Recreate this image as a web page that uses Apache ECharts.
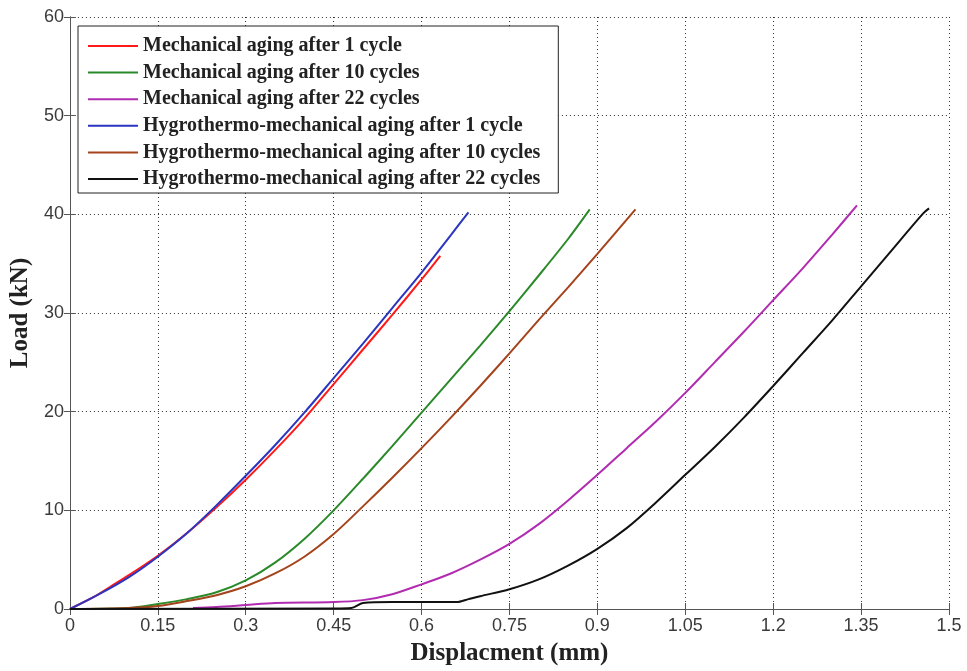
<!DOCTYPE html>
<html>
<head>
<meta charset="utf-8">
<script src="https://cdn.jsdelivr.net/npm/echarts@6/dist/echarts.min.js"></script>
<style>
    html, body { margin: 0; padding: 0; background: #fff; }
    #chart { width: 967px; height: 671px; }
</style>
</head>
<body>
<div id="chart"></div>
<script>
// 图例名称
const seriesNames = [
    'Mechanical aging after 1 cycle',
    'Mechanical aging after 10 cycles',
    'Mechanical aging after 22 cycles',
    'Hygrothermo-mechanical aging after 1 cycle',
    'Hygrothermo-mechanical aging after 10 cycles',
    'Hygrothermo-mechanical aging after 22 cycles'
];
const seriesColors = ['#ff1a1a', '#2a8a2a', '#b12cb1', '#2a35c0', '#a5431c', '#111111'];

// [位移 mm, 载荷 kN]
const mech1 = [[0, 0], [0.04, 1.2], [0.07, 2.3], [0.1, 3.4], [0.15, 5.4], [0.2, 7.7], [0.25, 10.3],
    [0.3, 13.1], [0.35, 16.1], [0.4, 19.3], [0.45, 22.8], [0.5, 26.3], [0.55, 29.8], [0.6, 33.4], [0.632, 35.8]];
const mech10 = [[0, 0], [0.1, 0.1], [0.15, 0.5], [0.2, 1.0], [0.25, 1.7], [0.3, 2.9], [0.35, 4.7],
    [0.4, 7.1], [0.45, 10.0], [0.5, 13.2], [0.55, 16.5], [0.6, 19.9], [0.65, 23.3], [0.7, 26.7],
    [0.75, 30.2], [0.8, 33.8], [0.85, 37.5], [0.887, 40.5]];
const mech22 = [[0.21, 0.1], [0.25, 0.2], [0.3, 0.4], [0.35, 0.6], [0.45, 0.7], [0.5, 0.9], [0.55, 1.5],
    [0.6, 2.5], [0.65, 3.6], [0.7, 5.0], [0.75, 6.6], [0.8, 8.6], [0.85, 11.0], [0.9, 13.6], [0.95, 16.3],
    [1.0, 19.0], [1.05, 21.9], [1.1, 25.0], [1.15, 28.1], [1.2, 31.3], [1.25, 34.5], [1.3, 37.9], [1.343, 40.9]];
const hygro1 = [[0, 0], [0.05, 1.5], [0.1, 3.2], [0.15, 5.3], [0.2, 7.7], [0.25, 10.5], [0.3, 13.5],
    [0.35, 16.6], [0.4, 19.9], [0.45, 23.4], [0.5, 26.9], [0.55, 30.5], [0.6, 34.1], [0.65, 37.9], [0.68, 40.2]];
const hygro10 = [[0, 0], [0.1, 0.1], [0.15, 0.3], [0.2, 0.8], [0.25, 1.4], [0.3, 2.3], [0.35, 3.6],
    [0.4, 5.3], [0.45, 7.6], [0.5, 10.4], [0.55, 13.3], [0.6, 16.3], [0.65, 19.4], [0.7, 22.6],
    [0.75, 25.9], [0.8, 29.3], [0.85, 32.6], [0.9, 36.0], [0.965, 40.5]];
const hygro22 = [[0, 0], [0.45, 0.05], [0.48, 0.1], [0.5, 0.6], [0.55, 0.7], [0.6, 0.7], [0.66, 0.7],
    [0.68, 1.0], [0.7, 1.3], [0.75, 2.0], [0.8, 3.0], [0.85, 4.4], [0.9, 6.1], [0.95, 8.2], [1.0, 10.8],
    [1.05, 13.6], [1.1, 16.4], [1.15, 19.4], [1.2, 22.6], [1.25, 25.9], [1.3, 29.2], [1.35, 32.7],
    [1.4, 36.2], [1.456, 40.1], [1.466, 40.6]];

const seriesData = [mech1, mech10, mech22, hygro1, hygro10, hygro22];

const chart = echarts.init(document.getElementById('chart'));

const axisLine = { show: true, lineStyle: { color: '#555', width: 1 } };
const tickInside = { show: true, inside: true, length: 6, lineStyle: { color: '#555' } };
const labelStyle = { fontFamily: 'Liberation Sans', fontSize: 18, color: '#3a3a3a' };
const gridDots = { show: true, lineStyle: { type: [1, 3], color: '#333', width: 1 } };
const nameStyle = { fontFamily: 'Liberation Serif', fontWeight: 'bold', fontSize: 25, color: '#222' };

const option = {
    animation: false,
    backgroundColor: '#fff',
    grid: { left: 69, right: 18, top: 17, bottom: 58 },
    legend: {
        data: seriesNames,
        orient: 'vertical',
        left: 78,
        top: 26,
        icon: 'rect',
        itemWidth: 50,
        itemHeight: 2,
        itemGap: 6.6,
        padding: [10, 18, 4, 10],
        backgroundColor: '#fff',
        borderColor: '#222',
        borderWidth: 1,
        borderRadius: 0,
        textStyle: { fontFamily: 'Liberation Serif', fontWeight: 'bold', fontSize: 20, color: '#222', lineHeight: 20 }
    },
    xAxis: [
        {
            type: 'value', min: 0, max: 1.5, interval: 0.15,
            name: 'Displacment (mm)', nameLocation: 'middle', nameGap: 32, nameTextStyle: nameStyle,
            axisLine: axisLine, axisTick: tickInside, splitLine: gridDots,
            axisLabel: Object.assign({ margin: 8 }, labelStyle)
        },
        {
            type: 'value', min: 0, max: 1.5, interval: 0.15, position: 'top',
            axisLine: axisLine, axisTick: tickInside, splitLine: { show: false },
            axisLabel: { show: false }
        }
    ],
    yAxis: [
        {
            type: 'value', min: 0, max: 60, interval: 10,
            name: 'Load (kN)', nameLocation: 'middle', nameGap: 35, nameTextStyle: nameStyle,
            axisLine: axisLine, axisTick: tickInside, splitLine: gridDots,
            axisLabel: Object.assign({ margin: 6 }, labelStyle)
        },
        {
            type: 'value', min: 0, max: 60, interval: 10, position: 'right',
            axisLine: axisLine, axisTick: tickInside, splitLine: { show: false },
            axisLabel: { show: false }
        }
    ],
    series: seriesNames.map((name, i) => ({
        name: name,
        type: 'line',
        data: seriesData[i],
        smooth: 0.3,
        symbol: 'none',
        color: seriesColors[i],
        lineStyle: { color: seriesColors[i], width: 2 }
    }))
};

chart.setOption(option);
</script>
</body>
</html>
